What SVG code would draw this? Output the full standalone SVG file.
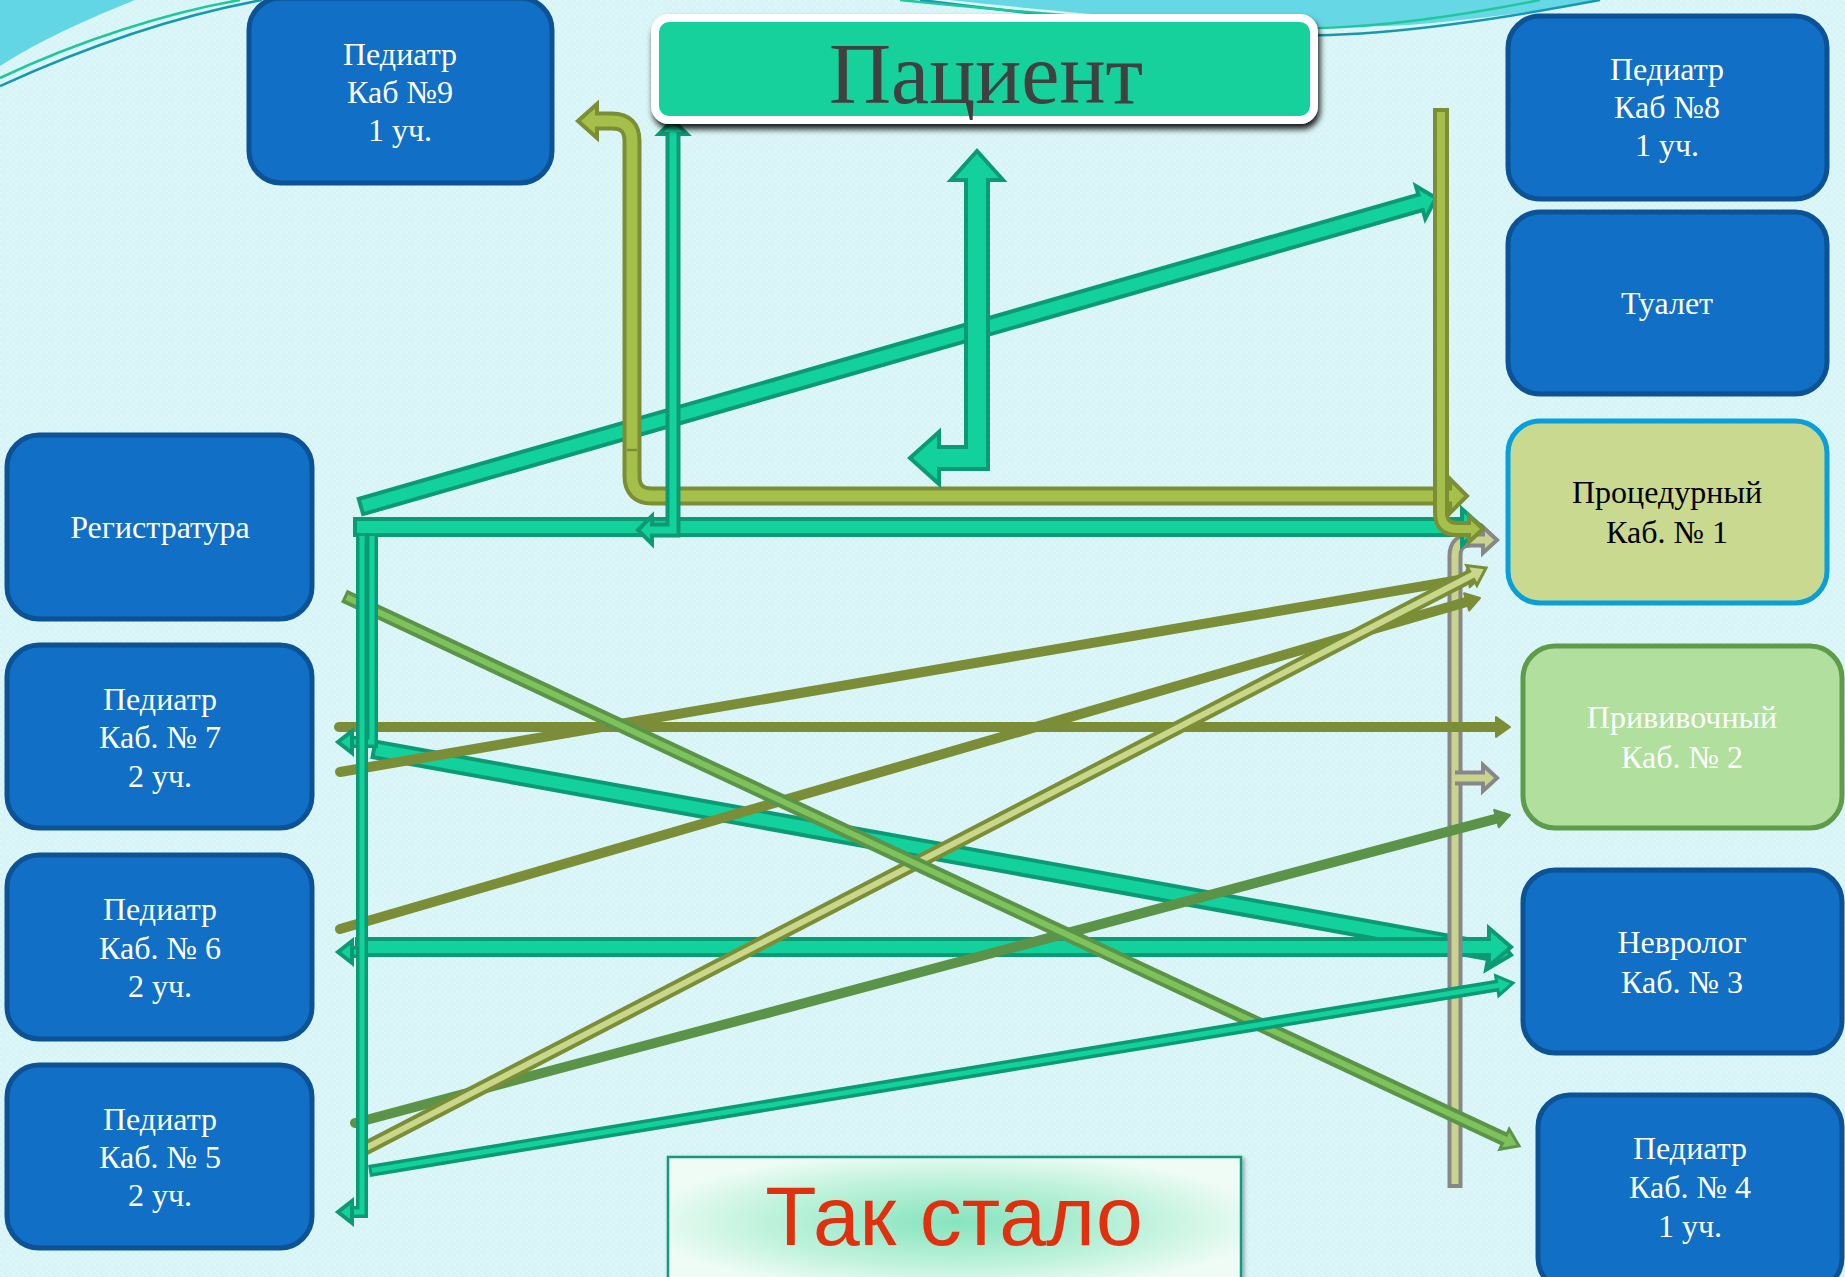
<svg xmlns="http://www.w3.org/2000/svg" width="1845" height="1277" viewBox="0 0 1845 1277">
<defs>
<pattern id="dots" width="6" height="6" patternUnits="userSpaceOnUse">
<rect width="6" height="6" fill="#d6f4f7"/>
<rect x="0" y="0" width="3" height="3" fill="#ddf7f9"/>
<rect x="3" y="3" width="3" height="3" fill="#ddf7f9"/>
</pattern>
<filter id="shadow" x="-5%" y="-20%" width="110%" height="150%">
<feDropShadow dx="2" dy="5" stdDeviation="3" flood-color="#000" flood-opacity="0.9"/>
</filter>
<filter id="shadow2" x="-5%" y="-20%" width="110%" height="150%">
<feDropShadow dx="2" dy="2" stdDeviation="2" flood-color="#000" flood-opacity="0.35"/>
</filter>
<radialGradient id="tsGrad" cx="0.5" cy="0.5" r="0.55">
<stop offset="0" stop-color="#86e4be"/>
<stop offset="0.6" stop-color="#bff2dc"/>
<stop offset="1" stop-color="#effcf6"/>
</radialGradient>
<style>
.node rect{fill:#116fc6;stroke:#0c5294;stroke-width:5}
.node text{font-family:"Liberation Serif","Times New Roman",serif;font-size:32px;fill:#ffffff;text-anchor:middle}
.tD{fill:none;stroke:#0c9a74;stroke-linejoin:miter}
.tL{fill:none;stroke:#13d19c;stroke-linejoin:miter}
.tH{fill:#13d19c;stroke:#0c9a74;stroke-width:4;stroke-linejoin:miter}
.oD{fill:none;stroke:#7b8d35;stroke-linejoin:miter}
.oL{fill:none;stroke:#a5c04a;stroke-linejoin:miter}
.oH{fill:#a5c04a;stroke:#7b8d35;stroke-width:4;stroke-linejoin:miter}
.gD{fill:none;stroke:#878787;stroke-linejoin:miter}
.gL{fill:none;stroke:#c9d38e;stroke-linejoin:miter}
.gH{fill:#c9d38e;stroke:#878787;stroke-width:4;stroke-linejoin:miter}
.thin{fill:none;stroke:#7b8e37;stroke-width:10;stroke-linecap:round}
.thinH{fill:#7b8e37;stroke:#7b8e37;stroke-width:2;stroke-linejoin:round}
.grn{fill:none;stroke:#5b9449;stroke-width:10;stroke-linecap:round}
.grnH{fill:#5b9449;stroke:#5b9449;stroke-width:2;stroke-linejoin:round}
</style>
</defs>
<rect width="1845" height="1277" fill="url(#dots)"/>
<g id="decoration">
<path d="M0,0 H135 C90,18 40,40 0,66 Z" fill="#62d6e4"/>
<path d="M0,86 C90,45 180,15 262,0" stroke="#1699b0" stroke-width="2.5" fill="none"/>
<path d="M0,78 C80,40 170,12 240,0" stroke="#1fc79a" stroke-width="2.5" fill="none"/>
<path d="M950,0 C1150,22 1330,32 1420,24 C1500,17 1560,8 1600,0 Z" fill="#66d7e5"/>
<path d="M920,0 C1100,22 1250,38 1330,35 C1420,32 1520,15 1600,0" stroke="#1699b0" stroke-width="2.5" fill="none"/>
<path d="M900,0 C1080,18 1240,30 1320,28 C1400,26 1480,12 1540,0" stroke="#1fc79a" stroke-width="2.5" fill="none"/>
</g>

<g id="connectors">
<path class="tD" stroke-width="20" d="M372,749 L1490.4,951.3"/>
<polygon class="tH" points="1486.0,969.8 1511,955 1492.8,932.4"/>
<path class="tL" stroke-width="12" d="M375.9,749.7 L1492.4,951.6"/>
<path class="tD" stroke-width="20" d="M355,947 H1490"/>
<polygon class="tH" points="1489,966 1511,947 1489,928"/>
<path class="tL" stroke-width="12" d="M359,947 H1492"/>

<path class="gD" stroke-width="15" d="M1455,1188 V556 Q1455,540 1471,540 H1483"/>
<polygon class="gH" points="1483,527 1497,540 1483,553"/>
<path class="gL" stroke-width="7" d="M1455,1184 V556 Q1455,540 1471,540 H1485"/>
<path class="gD" stroke-width="15" d="M1455,778 H1483"/>
<polygon class="gH" points="1483,765 1497,778 1483,791"/>
<path class="gL" stroke-width="7" d="M1455,778 H1485"/>

<line class="thin" x1="339" y1="727" x2="1497" y2="727"/>
<polygon class="thinH" points="1496,717 1510,727 1496,737"/>
<line class="thin" x1="340" y1="772" x2="1468.2" y2="578.4"/>
<polygon class="thinH" points="1469.7,587.3 1482,576 1466.7,569.5"/>
<line class="thin" x1="340" y1="929" x2="1466.6" y2="601.9"/>
<polygon class="thinH" points="1469.1,610.5 1480,598 1464.1,593.3"/>
<line class="grn" x1="355" y1="1123" x2="1496.5" y2="818.6"/>
<polygon class="grnH" points="1498.8,827.3 1510,815 1494.2,809.9"/>

<line x1="364" y1="1149" x2="1471.8" y2="575.4" stroke="#7b8e37" stroke-width="14"/>
<polygon points="1476.9,585.2 1486,568 1466.7,565.6" fill="#c8d78a" stroke="#7b8e37" stroke-width="3"/>
<line x1="366.7" y1="1147.6" x2="1474.5" y2="574.0" stroke="#c8d78a" stroke-width="6"/>
<line x1="344" y1="596" x2="1504.5" y2="1139.2" stroke="#5b9449" stroke-width="14"/>
<polygon points="1499.8,1149.2 1519,1146 1509.2,1129.2" fill="#7dc25a" stroke="#5b9449" stroke-width="3"/>
<line x1="346.7" y1="597.3" x2="1507.2" y2="1140.5" stroke="#7dc25a" stroke-width="6"/>
<line x1="369" y1="1171" x2="1497.2" y2="985.6" stroke="#0c9a74" stroke-width="12"/>
<polygon points="1498.8,995.5 1513,983 1495.6,975.7" fill="#13d19c" stroke="#0c9a74" stroke-width="3"/>
<line x1="372" y1="1170.5" x2="1500.2" y2="985.1" stroke="#13d19c" stroke-width="5"/>

<path class="tD" stroke-width="20" d="M359,507 L1421.6,202.1"/>
<polygon class="tH" points="1425.3,218.7 1436,198 1415.9,186.1"/>
<path class="tL" stroke-width="12" d="M362.8,505.9 L1423.5,201.6"/>

<path class="tD" stroke-width="20" d="M353,527 H1463"/>
<polygon class="tH" points="1462,545 1482,527 1462,509"/>
<path class="tL" stroke-width="12" d="M357,527 H1465"/>

<path class="tD" stroke-width="12" d="M372,537 V742 H352"/>
<polygon class="tH" stroke-width="3" points="352,731 338,742 352,753"/>
<path class="tL" stroke-width="5" d="M372,536 V742 H354"/>
<path class="tD" stroke-width="12" d="M362,537 V952 H352"/>
<polygon class="tH" stroke-width="3" points="352,941 338,952 352,963"/>
<path class="tL" stroke-width="5" d="M362,536 V952 H354"/>
<path class="tD" stroke-width="12" d="M362,537 V1212 H352"/>
<polygon class="tH" stroke-width="3" points="352,1201 338,1212 352,1223"/>
<path class="tL" stroke-width="5" d="M362,536 V1212 H354"/>

<path class="oD" stroke-width="19" d="M597,121 H612 Q632,121 632,141 V476 Q632,496 652,496 H1450"/>
<polygon class="oH" points="597,104 578,121 597,138"/>
<polygon class="oH" points="1450,479 1467,496 1450,513"/>
<path class="oL" stroke-width="11" d="M594,121 H612 Q632,121 632,141 V476 Q632,496 652,496 H1453"/>
<line x1="627" y1="450" x2="637" y2="450" stroke="#7b8d35" stroke-width="2.5"/>

<path class="tD" stroke-width="15" d="M673,134 V530 H652"/>
<polygon class="tH" stroke-width="3" points="659,134 673,120 687,134"/>
<polygon class="tH" stroke-width="3" points="652,516 638,530 652,544"/>
<path class="tL" stroke-width="7" d="M673,132 V530 H650"/>

<path class="tD" stroke-width="26" d="M977,180 V458 H939"/>
<polygon class="tH" points="951,180 977,151 1003,180"/>
<polygon class="tH" points="939,432 910,458 939,484"/>
<path class="tL" stroke-width="18" d="M977,177 V458 H936"/>

<path class="oD" stroke-width="16" d="M1441,108 V513 Q1441,529 1457,529 H1469"/>
<polygon class="oH" stroke-width="3" points="1469,516 1483,529 1469,542"/>
<path class="oL" stroke-width="8" d="M1441,112 V513 Q1441,529 1457,529 H1471"/>
</g>

<g id="patient">
<rect x="655" y="18" width="659" height="102" rx="14" fill="#12d19b" stroke="#ffffff" stroke-width="8" filter="url(#shadow)"/>
<text x="986" y="103" font-family="Liberation Serif, Times New Roman, serif" font-size="86" fill="#404040" text-anchor="middle">Пациент</text>
</g>

<g id="ped9" class="node">
<rect x="249" y="-2" width="303" height="185" rx="32"/>
<text x="400" y="65">Педиатр</text>
<text x="400" y="103">Каб №9</text>
<text x="400" y="141">1 уч.</text>
</g>
<g id="ped8" class="node">
<rect x="1508" y="16" width="319" height="183" rx="32"/>
<text x="1667" y="80">Педиатр</text>
<text x="1667" y="118">Каб №8</text>
<text x="1667" y="156">1 уч.</text>
</g>
<g id="toilet" class="node">
<rect x="1508" y="212" width="319" height="182" rx="32"/>
<text x="1667" y="314">Туалет</text>
</g>
<g id="proc" class="node">
<rect x="1508" y="421" width="319" height="182" rx="32" style="fill:#c9d98f;stroke:#0a9fd8"/>
<text x="1667" y="503" style="fill:#000000">Процедурный</text>
<text x="1667" y="543" style="fill:#000000">Каб. № 1</text>
</g>
<g id="priv" class="node">
<rect x="1523" y="646" width="319" height="182" rx="32" style="fill:#b0df9e;stroke:#5e9c4a"/>
<text x="1682" y="728">Прививочный</text>
<text x="1682" y="768">Каб. № 2</text>
</g>
<g id="nevr" class="node">
<rect x="1523" y="870" width="319" height="183" rx="32"/>
<text x="1682" y="953">Невролог</text>
<text x="1682" y="993">Каб. № 3</text>
</g>
<g id="ped4" class="node">
<rect x="1538" y="1095" width="304" height="195" rx="32"/>
<text x="1690" y="1159">Педиатр</text>
<text x="1690" y="1198">Каб. № 4</text>
<text x="1690" y="1237">1 уч.</text>
</g>
<g id="reg" class="node">
<rect x="7" y="435" width="305" height="184" rx="32"/>
<text x="160" y="538">Регистратура</text>
</g>
<g id="ped7" class="node">
<rect x="7" y="645" width="305" height="183" rx="32"/>
<text x="160" y="710">Педиатр</text>
<text x="160" y="748">Каб. № 7</text>
<text x="160" y="787">2 уч.</text>
</g>
<g id="ped6" class="node">
<rect x="7" y="855" width="305" height="184" rx="32"/>
<text x="160" y="920">Педиатр</text>
<text x="160" y="959">Каб. № 6</text>
<text x="160" y="997">2 уч.</text>
</g>
<g id="ped5" class="node">
<rect x="7" y="1065" width="305" height="183" rx="32"/>
<text x="160" y="1130">Педиатр</text>
<text x="160" y="1168">Каб. № 5</text>
<text x="160" y="1206">2 уч.</text>
</g>

<g id="tak-stalo">
<rect x="668" y="1157" width="573" height="130" fill="url(#tsGrad)" stroke="#13997a" stroke-width="2.5" filter="url(#shadow2)"/>
<text x="954" y="1245" font-family="Liberation Sans, Arial, sans-serif" font-size="84" fill="#e0300e" text-anchor="middle">Так стало</text>
</g>
</svg>
